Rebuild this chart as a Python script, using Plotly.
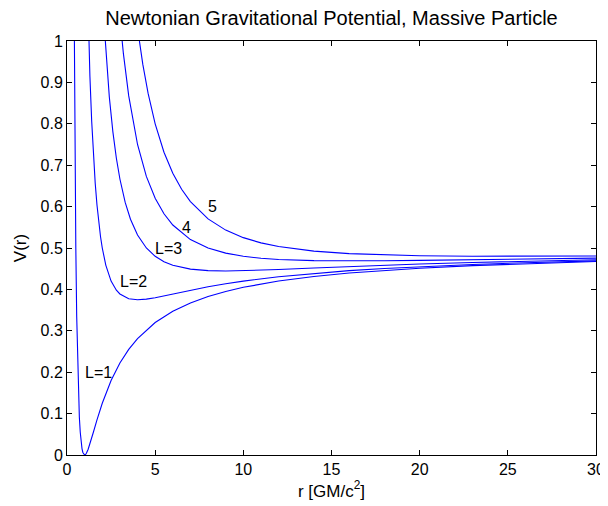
import plotly.graph_objects as go

# Tabulated curve samples (r in GM/c^2, V(r))
r_L1 = [0.40, 0.414, 0.43, 0.45, 0.47, 0.50, 0.55, 0.60, 0.65, 0.70, 0.75, 0.80, 0.85, 0.90, 0.95, 1.00,
        1.05, 1.10, 1.20, 1.30, 1.50, 1.70, 2.0, 2.5, 3.0, 3.5, 4, 5, 6, 7, 8, 9, 10, 12, 14, 16, 18, 20, 23, 26, 30]
V_L1 = [1.125, 1.0, 0.8786, 0.7469, 0.6358, 0.5, 0.3347, 0.2222, 0.1449, 0.0918, 0.0556, 0.03125, 0.01557, 0.00617, 0.00139, 0.0,
        0.00113, 0.00413, 0.01389, 0.02663, 0.05556, 0.08477, 0.125, 0.18, 0.22222, 0.2551, 0.28125, 0.32, 0.34722, 0.36735, 0.38281, 0.39506, 0.405, 0.42014, 0.43112, 0.43945, 0.44599, 0.45125, 0.45747, 0.46228, 0.46722]

r_L2 = [1.1, 1.2, 1.3, 1.4, 1.5, 1.6, 1.7, 1.8, 1.9, 2.0, 2.2, 2.5, 2.8, 3.0, 3.5, 4, 4.5, 5, 6, 7, 8, 9, 10, 12, 14, 16, 18, 20, 23, 26, 30]
V_L2 = [1.2438, 1.05556, 0.9142, 0.80612, 0.72222, 0.65625, 0.6038, 0.56173, 0.5277, 0.5, 0.45868, 0.42, 0.39796, 0.38889, 0.37755, 0.375, 0.37654, 0.38, 0.38889, 0.39796, 0.40625, 0.41358, 0.42, 0.43056, 0.43878, 0.44531, 0.45062, 0.455, 0.4603, 0.4645, 0.46889]

r_L3 = [2.1, 2.2, 2.4, 2.6, 2.8, 3.0, 3.3, 3.6, 4, 4.5, 5, 5.5, 6, 7, 8, 9, 10, 11, 12, 14, 16, 18, 20, 23, 26, 30]
V_L3 = [1.04422, 0.97521, 0.86458, 0.78107, 0.71684, 0.66667, 0.61019, 0.56944, 0.53125, 0.5, 0.48, 0.46694, 0.45833, 0.44898, 0.44531, 0.44444, 0.445, 0.44628, 0.44792, 0.45153, 0.45508, 0.45833, 0.46125, 0.46503, 0.4682, 0.47167]

r_L4 = [3.0, 3.2, 3.5, 4, 4.5, 5, 5.5, 6, 7, 8, 9, 10, 11, 12, 14, 16, 18, 20, 23, 26, 30]
V_L4 = [1.05556, 0.96875, 0.86735, 0.75, 0.67284, 0.62, 0.58264, 0.55556, 0.52041, 0.5, 0.48765, 0.48, 0.47521, 0.47222, 0.46939, 0.46875, 0.46914, 0.47, 0.47164, 0.47337, 0.47556]

r_L5 = [4.0, 4.3, 4.6, 5, 5.5, 6, 6.5, 7, 8, 9, 10, 11, 12, 13, 14, 16, 18, 20, 23, 26, 30]
V_L5 = [1.03125, 0.94348, 0.87335, 0.8, 0.7314, 0.68056, 0.64201, 0.61224, 0.57031, 0.54321, 0.525, 0.5124, 0.50347, 0.49704, 0.49235, 0.48633, 0.48302, 0.48125, 0.48015, 0.48003, 0.48056]

curves = [(r_L1, V_L1), (r_L2, V_L2), (r_L3, V_L3), (r_L4, V_L4), (r_L5, V_L5)]

label_texts = ["L=1", "L=2", "L=3", "4", "5"]
label_r = [1.0, 3.0, 5.0, 6.5, 8.0]
label_V = [0.2, 0.42, 0.5, 0.55, 0.6]

x_ticks = [0, 5, 10, 15, 20, 25, 30]
y_ticks = [0, 0.1, 0.2, 0.3, 0.4, 0.5, 0.6, 0.7, 0.8, 0.9, 1]
y_tick_text = ["0", "0.1", "0.2", "0.3", "0.4", "0.5", "0.6", "0.7", "0.8", "0.9", "1"]

FONT = "Liberation Sans, Arial, Helvetica, sans-serif"

# The page body adds an 8px offset; size the figure so it fits the 608x506 window.
FIG_W, FIG_H = 600, 498

fig = go.Figure()
for rr, vv in curves:
    fig.add_trace(go.Scatter(x=rr, y=vv, mode="lines",
                             line=dict(color="#0000ff", width=1.1),
                             showlegend=False, hoverinfo="skip"))

for t, xr, yv in zip(label_texts, label_r, label_V):
    fig.add_annotation(x=xr, y=yv, text=t, showarrow=False, xanchor="left", yanchor="middle",
                       xshift=-2, font=dict(family=FONT, size=16, color="black"))

axis_common = dict(showgrid=False, zeroline=False, showline=True, linecolor="black", linewidth=1,
                   mirror="ticks", ticks="inside", ticklen=5, tickcolor="black", automargin=False,
                   tickfont=dict(family=FONT, size=16, color="black"))

fig.update_xaxes(range=[0, 30], tickvals=x_ticks,
                 title=dict(text="r [GM/c<sup>2</sup>]", font=dict(family=FONT, size=17, color="black"), standoff=7),
                 **axis_common)
fig.update_yaxes(range=[0, 1], tickvals=y_ticks, ticktext=y_tick_text,
                 title=dict(text="V(r)", font=dict(family=FONT, size=17, color="black"), standoff=9),
                 **axis_common)

fig.update_layout(
    width=FIG_W, height=FIG_H,
    margin=dict(l=59, r=12, t=33, b=51),
    paper_bgcolor="white", plot_bgcolor="white",
    title=dict(text="Newtonian Gravitational Potential, Massive Particle",
               font=dict(family=FONT, size=20, color="black"),
               x=0.5, xref="paper", xanchor="center", y=1 - 9.5 / FIG_H, yanchor="middle"),
)

fig.write_html("out.html")
